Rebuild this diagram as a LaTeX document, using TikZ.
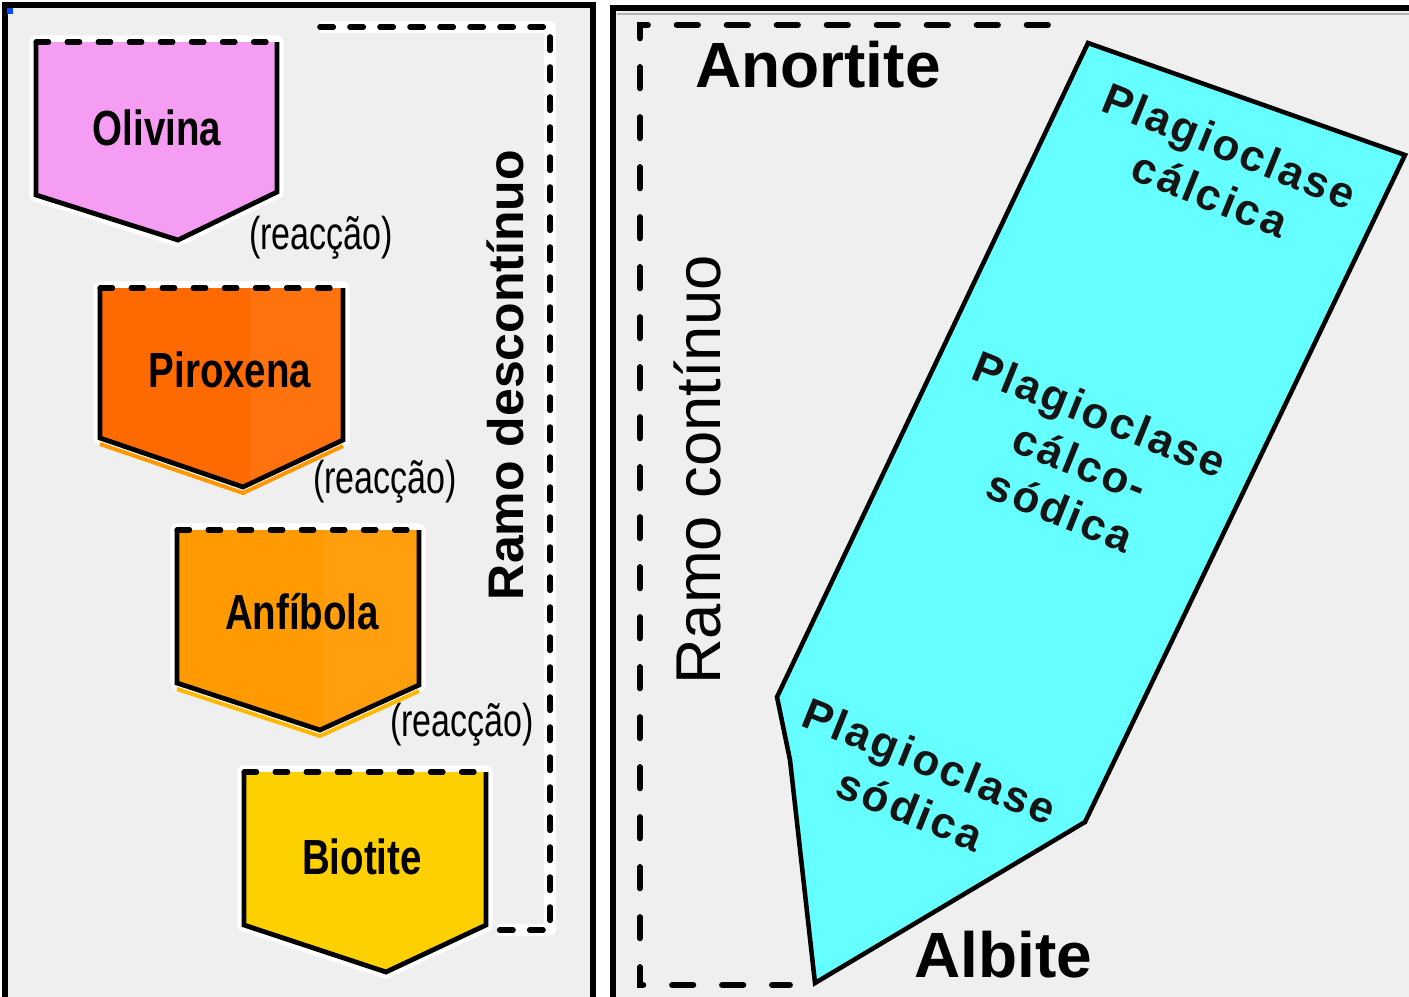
\documentclass[tikz,border=0pt]{standalone}
\usepackage{fontspec}
\setmainfont{Liberation Sans}
\newfontfamily\condensed[FakeStretch=0.78]{Liberation Sans}
\newfontfamily\reacfont[FakeStretch=0.74]{Liberation Sans}
\newfontfamily\spaced[LetterSpace=6]{Liberation Sans}
\definecolor{panelgrey}{HTML}{EFEFEF}
\definecolor{olivcol}{HTML}{F59DF2}
\definecolor{pirocol}{HTML}{FF6A00}
\definecolor{anficol}{HTML}{FF9A00}
\definecolor{biocol}{HTML}{FFD000}
\definecolor{plagcol}{HTML}{66FFFF}
\definecolor{inkcol}{HTML}{151515}
\tikzset{
  panelframe/.style={line width=3.8pt, draw=black},
  bracket/.style={line width=4.2pt, draw=black, line cap=round, dash pattern=on 10pt off 12.5pt},
  bracketwide/.style={line width=4.4pt, draw=black, line cap=round, dash pattern=on 16pt off 21.5pt},
  mineraledge/.style={line width=3.6pt, draw=black, line join=miter},
  mineraltop/.style={line width=3.8pt, draw=black, line cap=round, dash pattern=on 9.5pt off 13.8pt},
  halo/.style={line width=10pt, draw=white, line join=round},
  mineraltext/.style={font=\condensed\bfseries\fontsize{37}{40}\selectfont, text=black},
  reactext/.style={font=\reacfont\fontsize{34.5}{38}\selectfont, text=black},
  plagtext/.style={font=\spaced\bfseries\fontsize{33}{39}\selectfont, text=inkcol, align=center, rotate=-22},
  bigtext/.style={font=\bfseries\fontsize{48}{52}\selectfont, text=black},
}
\begin{document}
\begin{tikzpicture}[x=0.75pt, y=-0.75pt]
\useasboundingbox (0,0) rectangle (1409,996);
% page and panels
\fill[white] (0,0) rectangle (1409,996);
\fill[panelgrey] (5,5) rectangle (593,1000);
\fill[panelgrey] (612,8) rectangle (1412,1000);
\draw[panelframe] (5,1000) -- (5,5) -- (593,5) -- (593,1000);
\draw[panelframe] (613,1000) -- (613,8) -- (1412,8);
\draw[line width=2pt, gray!60] (617,14) -- (1412,14);
\fill[blue!70!cyan] (7,8) rectangle (13,14);

% ---------- discontinuous branch ----------
\draw[white, line width=9pt, line join=round] (320,27) -- (550,27) -- (550,930) -- (497,930);
\draw[bracket] (320,27) -- (550,27) -- (550,930) -- (497,930);

% Olivina
\draw[halo] (36,42) -- (277,42) -- (277,192) -- (178,240) -- (36,195) -- cycle;
\fill[olivcol] (36,42) -- (277,42) -- (277,192) -- (178,240) -- (36,195) -- cycle;
\draw[mineraledge] (277,42) -- (277,192) -- (178,240) -- (36,195) -- (36,42);
\draw[mineraltop] (36,42) -- (277,42);
\node[mineraltext] (olivina) at (157,128) {Olivina};
\node[reactext] (reac1) at (321,238) {(reacção)};

% Piroxena
\draw[halo] (100,288) -- (343,288) -- (343,440) -- (243,487) -- (100,438) -- cycle;
\fill[pirocol] (100,288) -- (343,288) -- (343,440) -- (243,487) -- (100,438) -- cycle;
\fill[pirocol!94!white] (250,288) -- (343,288) -- (343,440) -- (250,484) -- cycle;
\draw[line width=3pt, pirocol!70!yellow] (100,444) -- (243,493) -- (343,446);
\draw[mineraledge] (343,288) -- (343,440) -- (243,487) -- (100,438) -- (100,288);
\draw[mineraltop] (100,288) -- (343,288);
\node[mineraltext] (piroxena) at (230,370) {Piroxena};
\node[reactext] (reac2) at (385,482) {(reacção)};

% Anfibola
\draw[halo] (177,530) -- (419,530) -- (419,685) -- (320,730) -- (177,683) -- cycle;
\fill[anficol] (177,530) -- (419,530) -- (419,685) -- (320,730) -- (177,683) -- cycle;
\fill[anficol!95!white] (323,530) -- (419,530) -- (419,685) -- (323,729) -- cycle;
\draw[line width=3pt, anficol!70!yellow] (177,689) -- (320,736) -- (419,691);
\draw[mineraledge] (419,530) -- (419,685) -- (320,730) -- (177,683) -- (177,530);
\draw[mineraltop] (177,530) -- (419,530);
\node[mineraltext] (anfibola) at (302,612) {Anfíbola};
\node[reactext] (reac3) at (462,725) {(reacção)};

% Biotite
\draw[halo] (244,772) -- (486,772) -- (486,925) -- (386,972) -- (244,925) -- cycle;
\fill[biocol] (244,772) -- (486,772) -- (486,925) -- (386,972) -- (244,925) -- cycle;
\draw[mineraledge] (486,772) -- (486,925) -- (386,972) -- (244,925) -- (244,772);
\draw[mineraltop] (244,772) -- (486,772);
\node[mineraltext] (biotite) at (362,857) {Biotite};

\node[font=\bfseries\fontsize{37.5}{40}\selectfont, rotate=90] (descont) at (505,375) {Ramo descontínuo};

% ---------- continuous branch ----------
\draw[bracketwide] (1048,25) -- (640,25) -- (640,985) -- (790,985);
\node[font=\fontsize{47.5}{52}\selectfont, rotate=90] (cont) at (697,470) {Ramo contínuo};
\node[bigtext] (anortite) at (818,65) {Anortite};
\node[bigtext] (albite) at (1003,955) {Albite};

\filldraw[fill=plagcol, draw=black, line width=3.4pt, line join=miter]
  (1088,43) -- (1405,155) -- (1085,822) -- (815,983) -- (790,760) -- (777,697) -- cycle;

\node[plagtext] (calcica) at (1220,170) {Plagioclase\\cálcica};
\node[plagtext] (calcosodica) at (1080,462) {Plagioclase\\cálco-\\sódica};
\node[plagtext] (sodica) at (920,785) {Plagioclase\\sódica};
\end{tikzpicture}
\end{document}
